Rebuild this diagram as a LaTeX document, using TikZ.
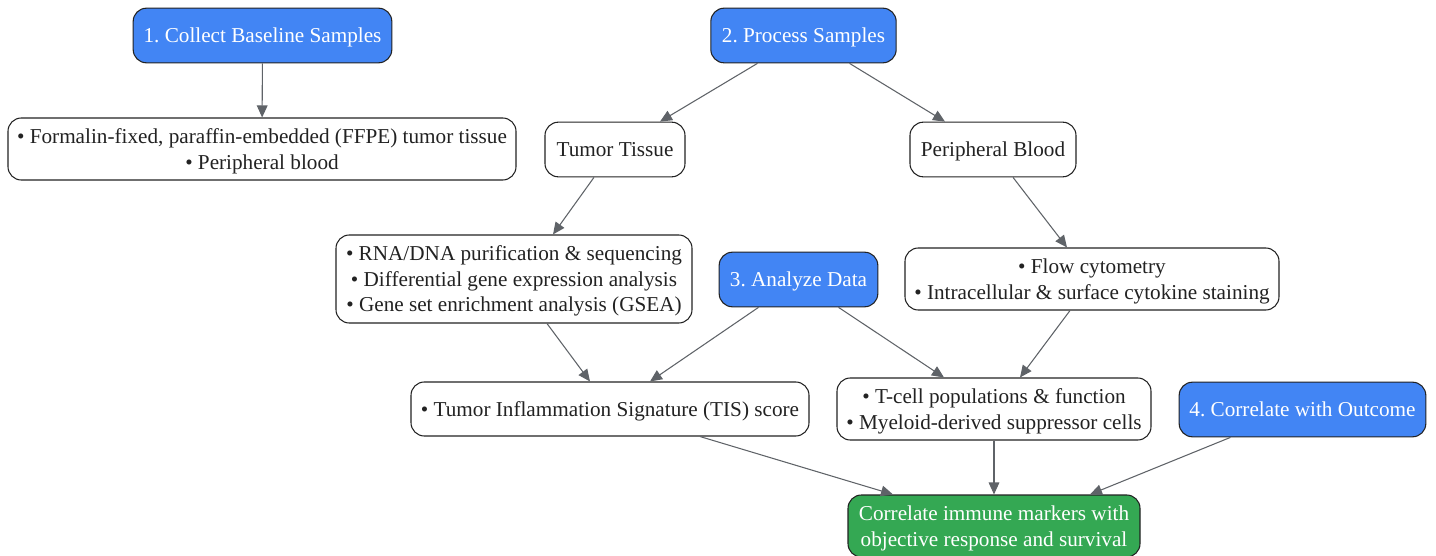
\documentclass[tikz,border=0pt]{standalone}
\usepackage{fontspec}
\setmainfont{Liberation Serif}
\usetikzlibrary{arrows.meta,calc}
\definecolor{stepblue}{HTML}{4285F4}
\definecolor{endgreen}{HTML}{34A853}
\definecolor{linegray}{HTML}{5F6368}
\definecolor{inkdark}{HTML}{222222}
\frenchspacing
\begin{document}
\begin{tikzpicture}[x=0.75pt,y=-0.75pt,
basenode/.style={draw=inkdark, line width=0.8pt, rounded corners=10pt, align=center, inner sep=2pt, text depth=0pt, font=\fontsize{15.9}{19.1}\selectfont, text=inkdark},
stepnode/.style={basenode, fill=stepblue, text=white},
infonode/.style={basenode, fill=white},
endnode/.style={basenode, fill=endgreen, text=white},
flow/.style={draw=linegray, line width=0.8pt, -{Triangle[length=9pt,width=8pt]}}
]
    \useasboundingbox (0,0) rectangle (1436,556);
    \node [stepnode, minimum width=194pt, minimum height=41pt] (collect) at (262.5,35.5) {1. Collect Baseline Samples};
    \node [infonode, minimum width=381pt, minimum height=46.5pt] (ffpe) at (262,149) {• Formalin-fixed, paraffin-embedded (FFPE) tumor tissue\\• Peripheral blood};

    \node [stepnode, minimum width=139pt, minimum height=41pt] (process) at (803.5,35.5) {2. Process Samples};
    \node [infonode, minimum width=105pt, minimum height=41pt] (tumor) at (615,149.5) {Tumor Tissue};
    \node [infonode, minimum width=124.5pt, minimum height=41pt] (blood) at (993,149.5) {Peripheral Blood};

    \node [infonode, minimum width=267pt, minimum height=66pt] (seq) at (514,279) {• RNA/DNA purification \& sequencing\\• Differential gene expression analysis\\• Gene set enrichment analysis (GSEA)};
    \node [stepnode, minimum width=119pt, minimum height=41pt] (analyze) at (798.5,279.5) {3. Analyze Data};
    \node [infonode, minimum width=280.5pt, minimum height=46.5pt] (cyto) at (1092,279) {• Flow cytometry\\• Intracellular \& surface cytokine staining};

    \node [infonode, minimum width=298.5pt, minimum height=40.5pt] (tis) at (610,409) {• Tumor Inflammation Signature (TIS) score};
    \node [infonode, minimum width=235.5pt, minimum height=46.5pt] (tcell) at (994,409) {• T-cell populations \& function\\• Myeloid-derived suppressor cells};
    \node [stepnode, minimum width=185pt, minimum height=41pt] (correlate) at (1302.5,409.5) {4. Correlate with Outcome};

    \node [endnode, minimum width=219pt, minimum height=46.5pt] (outcome) at (994,526) {Correlate immune markers with\\objective response and survival};

    \draw [flow] (collect) -- (ffpe);
    \draw [flow] ($(process.south)+(-46,0)$) -- ($(tumor.north)+(45,0)$);
    \draw [flow] ($(process.south)+(46,0)$) -- ($(blood.north)+(-48,0)$);
    \draw [flow] ($(tumor.south)+(-21,0)$) -- ($(seq.north)+(39,0)$);
    \draw [flow] ($(blood.south)+(20,0)$) -- ($(cyto.north)+(-25,0)$);
    \draw [flow] ($(seq.south)+(33,0)$) -- ($(tis.north)+(-20,0)$);
    \draw [flow] ($(analyze.south)+(-40,0)$) -- ($(tis.north)+(40,0)$);
    \draw [flow] ($(analyze.south)+(40,0)$) -- ($(tcell.north)+(-50,0)$);
    \draw [flow] ($(cyto.south)+(-22,0)$) -- ($(tcell.north)+(26,0)$);
    \draw [flow] ($(tis.south)+(90,0)$) -- ($(outcome.north)+(-101,0)$);
    \draw [flow] (tcell) -- (outcome);
    \draw [flow] ($(correlate.south)+(-72,0)$) -- ($(outcome.north)+(96,0)$);
\end{tikzpicture}
\end{document}
